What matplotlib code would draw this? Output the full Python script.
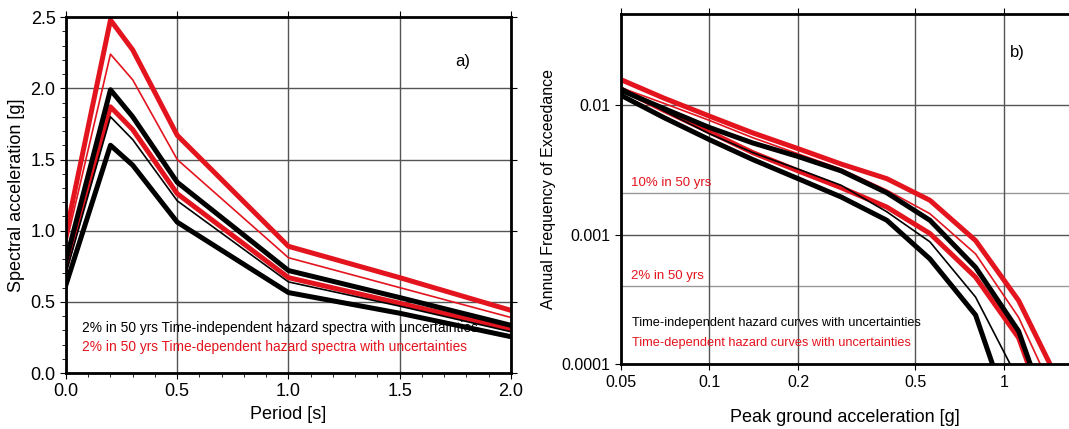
import numpy as np
import matplotlib.pyplot as plt
from matplotlib.ticker import MultipleLocator, FixedLocator, NullLocator

# ---- panel a: hazard spectra ----
period = [0.0, 0.2, 0.3, 0.5, 1.0, 1.5, 2.0]
sa_red_hi = [0.98, 2.48, 2.27, 1.67, 0.89, 0.67, 0.44]
sa_red_mid = [0.90, 2.24, 2.06, 1.50, 0.81, 0.60, 0.39]
sa_red_lo = [0.75, 1.87, 1.71, 1.26, 0.67, 0.49, 0.31]
sa_blk_hi = [0.79, 1.99, 1.80, 1.34, 0.72, 0.53, 0.335]
sa_blk_mid = [0.70, 1.80, 1.64, 1.21, 0.64, 0.47, 0.29]
sa_blk_lo = [0.62, 1.60, 1.46, 1.06, 0.565, 0.42, 0.255]

# ---- panel b: hazard curves ----
pga = [0.05, 0.07, 0.1, 0.14, 0.2, 0.28, 0.4, 0.56, 0.8, 1.12, 1.6]
afe_red_hi = [0.0157, 0.0113, 0.0082, 0.0061, 0.0046, 0.0035, 0.0027, 0.00184, 0.00090, 0.00031, 0.00006]
afe_red_mid = [0.0136, 0.0103, 0.0076, 0.0056, 0.0042, 0.0032, 0.0022, 0.00145, 0.00071, 0.00023, 0.00004]
afe_blk_hi = [0.0130, 0.0094, 0.0067, 0.0051, 0.0040, 0.0031, 0.0021, 0.00129, 0.00056, 0.00018, 0.000018]
afe_red_lo = [0.0133, 0.0091, 0.0062, 0.0043, 0.0031, 0.0023, 0.00163, 0.00102, 0.00047, 0.00016, 0.000017]
afe_blk_mid = [0.0138, 0.0090, 0.0060, 0.0043, 0.0032, 0.0024, 0.00150, 0.00088, 0.00033, 0.000075, 0.00001]
afe_blk_lo = [0.0119, 0.0080, 0.0054, 0.0038, 0.0027, 0.00195, 0.00129, 0.00065, 0.00024, 0.000026, 0.000003]

rp_levels = [1/475., 1/2475.]
rp_names = ['10% in 50 yrs', '2% in 50 yrs']

RED = '#e3141e'
THICK = 3.6
THIN = 1.2

plt.rcParams['font.family'] = ['Liberation Sans', 'DejaVu Sans']

fig = plt.figure(figsize=(10.69, 4.29), dpi=100)

# ================= a) =================
ax = fig.add_axes([0.0617, 0.1305, 0.4163, 0.8295])
ax.plot(period, sa_red_hi, color=RED, lw=THICK)
ax.plot(period, sa_red_mid, color=RED, lw=THIN)
ax.plot(period, sa_red_lo, color=RED, lw=THICK)
ax.plot(period, sa_blk_hi, color='k', lw=THICK)
ax.plot(period, sa_blk_mid, color='k', lw=THIN)
ax.plot(period, sa_blk_lo, color='k', lw=THICK)
ax.set_xlim(0, 2.0)
ax.set_ylim(0, 2.5)
ax.xaxis.set_major_locator(MultipleLocator(0.5))
ax.yaxis.set_major_locator(MultipleLocator(0.5))
ax.xaxis.set_minor_locator(MultipleLocator(0.1))
ax.yaxis.set_minor_locator(MultipleLocator(0.1))
ax.xaxis.set_major_formatter(plt.FormatStrFormatter('%.1f'))
ax.yaxis.set_major_formatter(plt.FormatStrFormatter('%.1f'))
ax.grid(True, which='major', color='#555555', lw=1.0)
ax.tick_params(which='both', direction='out', top=True, right=True, labelsize=13)
ax.tick_params(which='major', length=4)
ax.tick_params(which='minor', length=3, top=False, right=False)
for s in ax.spines.values():
    s.set_linewidth(2)
ax.set_xlabel('Period [s]', fontsize=13)
ax.set_ylabel('Spectral acceleration [g]', fontsize=13)
ax.text(0.874, 0.862, 'a)', transform=ax.transAxes, fontsize=12)
ax.text(0.035, 0.115, '2% in 50 yrs Time-independent hazard spectra with uncertainties',
        transform=ax.transAxes, fontsize=9.95, color='k')
ax.text(0.035, 0.062, '2% in 50 yrs Time-dependent hazard spectra with uncertainties',
        transform=ax.transAxes, fontsize=9.95, color=RED)

# ================= b) =================
bx = fig.add_axes([0.5806, 0.1508, 0.4194, 0.8159])
bx.plot(pga, afe_red_hi, color=RED, lw=THICK)
bx.plot(pga, afe_red_mid, color=RED, lw=THIN)
bx.plot(pga, afe_red_lo, color=RED, lw=THICK)
bx.plot(pga, afe_blk_hi, color='k', lw=THICK)
bx.plot(pga, afe_blk_mid, color='k', lw=THIN)
bx.plot(pga, afe_blk_lo, color='k', lw=THICK)
bx.set_xscale('log')
bx.set_yscale('log')
bx.set_xlim(0.05, 1.66)
bx.set_ylim(1e-4, 5e-2)
bx.xaxis.set_major_locator(FixedLocator([0.05, 0.1, 0.2, 0.5, 1]))
bx.xaxis.set_minor_locator(NullLocator())
bx.set_xticklabels(['0.05', '0.1', '0.2', '0.5', '1'])
bx.yaxis.set_major_locator(FixedLocator([1e-4, 1e-3, 1e-2]))
bx.yaxis.set_minor_locator(NullLocator())
bx.set_yticklabels(['0.0001', '0.001', '0.01'])
bx.grid(True, which='major', color='#555555', lw=1.0)
for lev, name in zip(rp_levels, rp_names):
    bx.axhline(lev, color='#999999', lw=1.0, zorder=0.5)
    bx.text(0.054, lev * 1.13, name, color=RED, fontsize=9.5)
bx.tick_params(which='both', direction='out', top=True, labelsize=11.5, length=4)
bx.spines['right'].set_visible(False)
for s in ['left', 'top', 'bottom']:
    bx.spines[s].set_linewidth(2)
bx.set_xlabel('Peak ground acceleration [g]', fontsize=13, labelpad=14)
bx.set_ylabel('Annual Frequency of Exceedance', fontsize=11.5)
bx.text(0.868, 0.878, 'b)', transform=bx.transAxes, fontsize=12)
bx.text(0.026, 0.109, 'Time-independent hazard curves with uncertainties',
        transform=bx.transAxes, fontsize=9.15, color='k')
bx.text(0.026, 0.053, 'Time-dependent hazard curves with uncertainties',
        transform=bx.transAxes, fontsize=9.15, color=RED)

fig.savefig('out.png', dpi=100)
